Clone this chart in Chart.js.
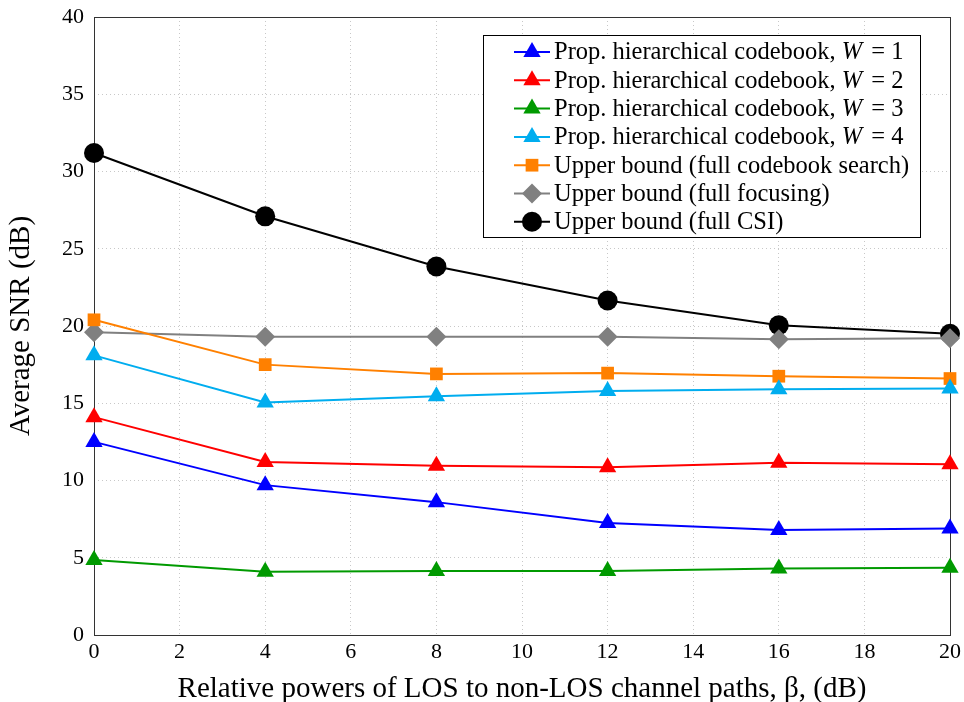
<!DOCTYPE html>
<html>
<head>
<meta charset="utf-8">
<script src="https://cdn.jsdelivr.net/npm/chart.js@4"></script>
<style>
  html, body { margin: 0; padding: 0; background: #fff; }
  #wrap { width: 964px; height: 702px; }
</style>
</head>
<body>
<div id="wrap"><canvas id="snrChart" width="964" height="702"></canvas></div>
<script>
// x positions (beta, dB)
const betaValues = [0, 4, 8, 12, 16, 20];

// average SNR (dB)
const propW1 = [12.5, 9.7, 8.6, 7.25, 6.8, 6.9];
const propW2 = [14.1, 11.2, 10.95, 10.85, 11.15, 11.05];
const propW3 = [4.85, 4.1, 4.15, 4.15, 4.3, 4.35];
const propW4 = [18.1, 15.05, 15.45, 15.8, 15.9, 15.95];
const fullCodebook = [20.4, 17.5, 16.9, 16.95, 16.75, 16.6];
const fullFocusing = [19.6, 19.3, 19.3, 19.3, 19.15, 19.2];
const fullCsi = [31.2, 27.1, 23.85, 21.65, 20.05, 19.5];

const seriesLabels = [
  ["Prop. hierarchical codebook, ", "W", " = 1"],
  ["Prop. hierarchical codebook, ", "W", " = 2"],
  ["Prop. hierarchical codebook, ", "W", " = 3"],
  ["Prop. hierarchical codebook, ", "W", " = 4"],
  ["Upper bound (full codebook search)"],
  ["Upper bound (full focusing)"],
  ["Upper bound (full CSI)"]
];

const serif = "'Liberation Serif', 'DejaVu Serif', serif";

function series(values, color, style, radius, idx) {
  return {
    label: seriesLabels[idx].join(""),
    data: betaValues.map((b, i) => ({ x: b, y: values[i] })),
    borderColor: color,
    backgroundColor: color,
    borderWidth: 2,
    pointStyle: style,
    pointRadius: radius,
    pointHoverRadius: radius,
    pointBorderWidth: 0,
    tension: 0,
    clip: false
  };
}

// legend drawn like the pgfplots box: line sample with a marker in the middle
const boxLegend = {
  id: "boxLegend",
  afterDraw(chart) {
    const ctx = chart.ctx;
    const left = 483, top = 35, width = 437, height = 202;
    ctx.save();
    ctx.fillStyle = "#fff";
    ctx.fillRect(left, top, width, height);
    ctx.strokeStyle = "#000";
    ctx.lineWidth = 1;
    ctx.strokeRect(left + 0.5, top + 0.5, width, height);
    chart.data.datasets.forEach((ds, i) => {
      const y = top + 17 + i * 28.3;
      ctx.strokeStyle = ds.borderColor;
      ctx.lineWidth = 2;
      ctx.beginPath();
      ctx.moveTo(left + 31, y);
      ctx.lineTo(left + 67, y);
      ctx.stroke();
      ctx.fillStyle = ds.backgroundColor;
      Chart.helpers.drawPoint(ctx, {
        pointStyle: ds.pointStyle,
        radius: ds.pointRadius,
        borderWidth: 0,
        rotation: 0
      }, left + 49, y);
      ctx.fillStyle = "#000";
      ctx.textBaseline = "middle";
      let x = left + 71;
      seriesLabels[i].forEach((part, k) => {
        ctx.font = (k === 1 ? "italic " : "") + "24.5px " + serif;
        ctx.fillText(part, x, y + 1);
        x += ctx.measureText(part).width + (k === 1 ? 3 : 0);
      });
    });
    ctx.restore();
  }
};

// full frame around the plot area
const frame = {
  id: "frame",
  beforeDatasetsDraw(chart) {
    const a = chart.chartArea, ctx = chart.ctx;
    ctx.save();
    ctx.strokeStyle = "#333";
    ctx.lineWidth = 1;
    ctx.strokeRect(Math.round(a.left) + 0.5, Math.round(a.top) + 0.5,
      Math.round(a.right - a.left), Math.round(a.bottom - a.top));
    ctx.restore();
  }
};

const ctx = document.getElementById("snrChart").getContext("2d");
new Chart(ctx, {
  type: "line",
  data: {
    datasets: [
      series(propW1, "#0000ff", "triangle", 10, 0),
      series(propW2, "#ff0000", "triangle", 10, 1),
      series(propW3, "#009a00", "triangle", 10, 2),
      series(propW4, "#00adef", "triangle", 10, 3),
      series(fullCodebook, "#ff8000", "rect", 9, 4),
      series(fullFocusing, "#808080", "rectRot", 10, 5),
      series(fullCsi, "#000000", "circle", 10, 6)
    ]
  },
  options: {
    responsive: false,
    animation: false,
    layout: { padding: { top: 17, right: 14, left: 0, bottom: 0 } },
    plugins: {
      legend: { display: false },
      tooltip: { enabled: false }
    },
    scales: {
      x: {
        type: "linear",
        min: 0,
        max: 20,
        ticks: { stepSize: 2, color: "#000", font: { family: serif, size: 22 }, padding: 4 },
        grid: { color: "#c8c8c8", lineWidth: 1, drawTicks: false },
        border: { display: false, dash: [1, 3] },
        title: {
          display: true,
          text: "Relative powers of LOS to non-LOS channel paths, \u03B2, (dB)",
          color: "#000",
          font: { family: serif, size: 29 },
          padding: { top: 4, bottom: -5 }
        },
        afterFit(scale) {
          scale.height = 67;
          scale.paddingLeft = 0;
          scale.paddingRight = 0;
        }
      },
      y: {
        min: 0,
        max: 40,
        ticks: { stepSize: 5, color: "#000", font: { family: serif, size: 22 }, padding: 10 },
        grid: { color: "#c8c8c8", lineWidth: 1, drawTicks: false },
        border: { display: false, dash: [1, 3] },
        title: {
          display: true,
          text: "Average SNR (dB)",
          color: "#000",
          font: { family: serif, size: 29 },
          padding: { bottom: 0 }
        },
        afterFit(scale) {
          scale.width = 94;
          scale.paddingTop = 0;
          scale.paddingBottom = 0;
        }
      }
    }
  },
  plugins: [frame, boxLegend]
});
</script>
</body>
</html>
